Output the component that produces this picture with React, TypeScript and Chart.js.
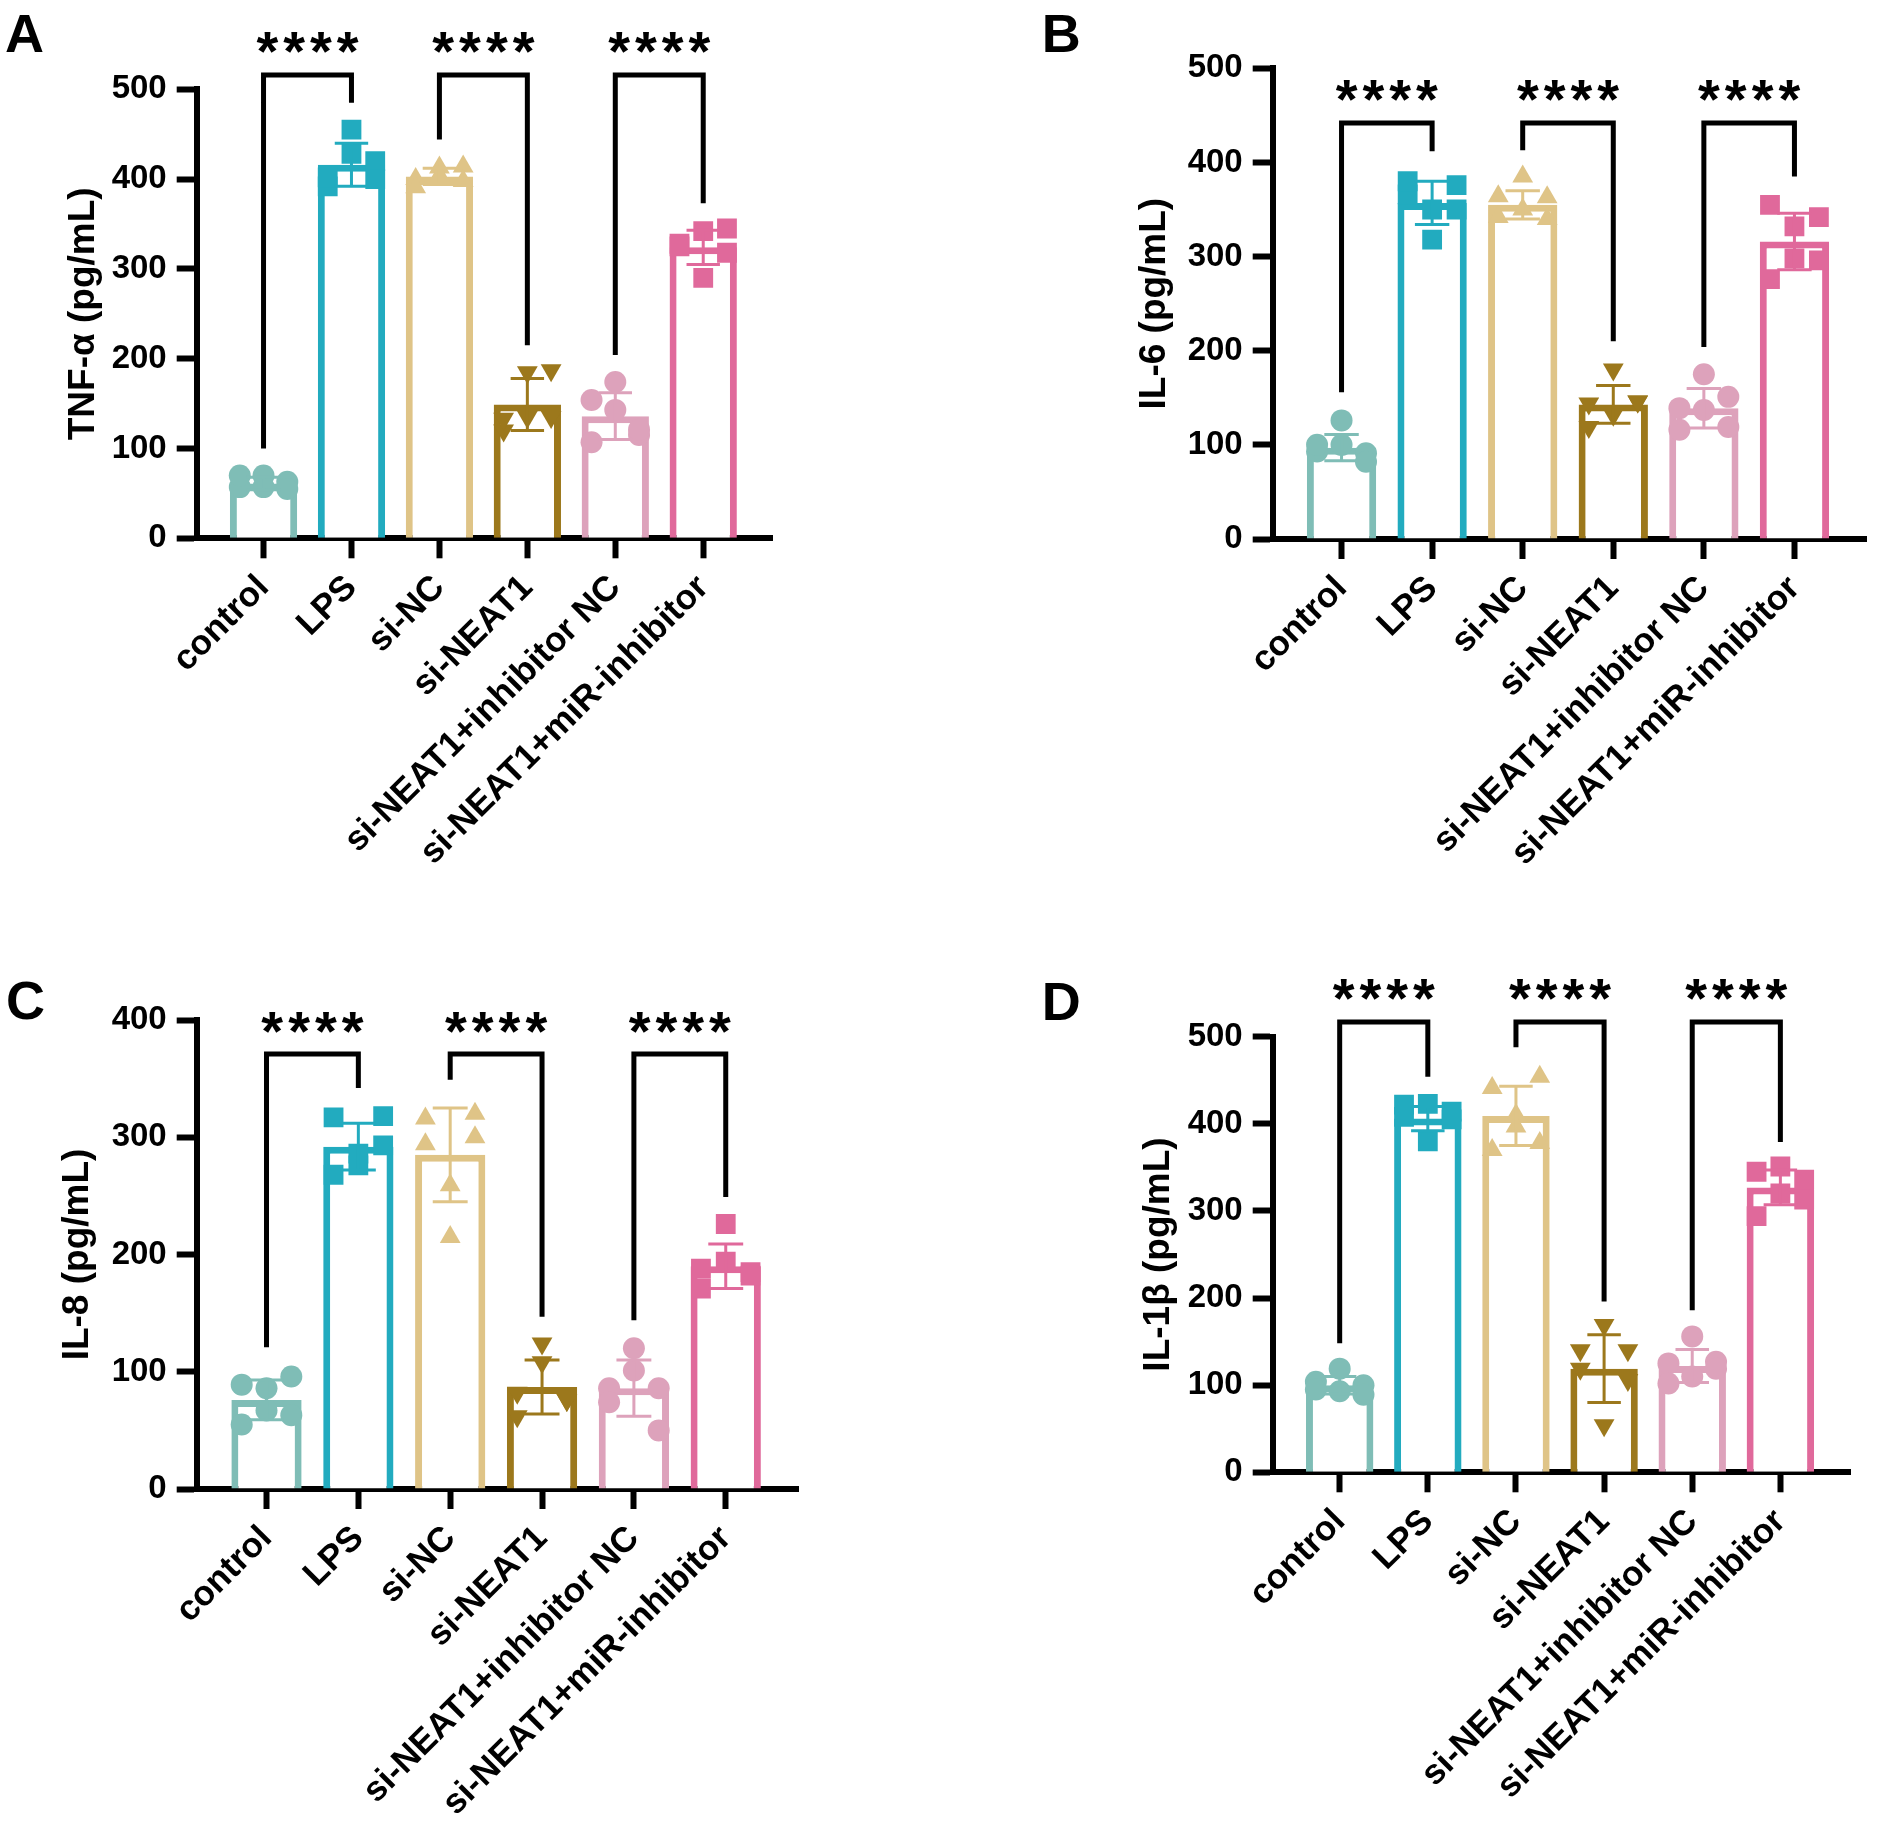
import React, { useEffect, useRef } from 'react';
import { Chart, registerables } from 'chart.js';

Chart.register(...registerables);

const FONT = "'Liberation Sans', Arial, Helvetica, sans-serif";
Chart.defaults.font.family = FONT;

// ---------- shared categories / styles ----------
const CATEGORIES = ['control', 'LPS', 'si-NC', 'si-NEAT1', 'si-NEAT1+inhibitor NC', 'si-NEAT1+miR-inhibitor'];
const GROUP_COLORS = ['#7FBDB6', '#22ABBF', '#DFC487', '#9C781C', '#DDA2BB', '#E0699B'];
const POINT_STYLES = ['circle', 'rect', 'triangle', 'triangle', 'circle', 'rect'];
const POINT_ROTATIONS = [0, 0, 0, 180, 0, 0];
const POINT_RADII = [11, 14, 12, 12, 11, 14];
const JITTER = [0, -0.27, 0.27, 0, -0.27, 0.27];
const COMPARISONS: [number, number][] = [[0, 1], [2, 3], [4, 5]];
const STAR_LABEL = '****';

// ---------- Panel A : TNF-α ----------
const TNF_MEANS = [61, 416, 403, 149, 136, 324];
const TNF_SD = [7, 24, 9, 29, 26, 19];
const TNF_POINTS = [
  [70, 57, 63, 57, 70, 55],
  [455, 392, 420, 428, 402, 400],
  [413, 400, 414, 404, 391, 398],
  [185, 120, 187, 135, 133, 135],
  [174, 154, 115, 143, 107, 121],
  [342, 328, 345, 290, 325, 318],
];
const TNF_BRACKET_TOP = 516;
const TNF_BRACKET_LEGS = [100, 485, 444, 215, 204, 373];

// ---------- Panel B : IL-6 ----------
const IL6_MEANS = [97, 357, 355, 143, 139, 316];
const IL6_SD = [14, 23, 15, 20, 21, 30];
const IL6_POINTS = [
  [126, 93, 91, 100, 100, 82],
  [318, 366, 376, 350, 380, 350],
  [385, 364, 363, 350, 342, 340],
  [180, 144, 146, 132, 119, 146],
  [175, 139, 151, 137, 116, 119],
  [332, 355, 342, 298, 276, 296],
];
const IL6_BRACKET_TOP = 442;
const IL6_BRACKET_LEGS = [156, 412, 413, 210, 204, 385];

// ---------- Panel C : IL-8 ----------
const IL8_MEANS = [76, 292, 285, 87, 86, 190];
const IL8_SD = [17, 20, 40, 23, 24, 19];
const IL8_POINTS = [
  [86, 89, 96, 67, 55, 63],
  [286, 317, 318, 276, 268, 293],
  [259, 316, 320, 215, 294, 300],
  [124, 82, 76, 108, 62, 76],
  [120, 86, 86, 101, 74, 50],
  [226, 188, 182, 194, 171, 185],
];
const IL8_BRACKET_TOP = 371;
const IL8_BRACKET_LEGS = [121, 342, 349, 147, 144, 249];

// ---------- Panel D : IL-1β ----------
const IL1B_MEANS = [100, 406, 409, 119, 122, 327];
const IL1B_SD = [10, 14, 34, 39, 19, 20];
const IL1B_POINTS = [
  [119, 104, 100, 93, 95, 89],
  [423, 422, 414, 380, 408, 405],
  [410, 441, 454, 397, 370, 378],
  [169, 140, 140, 54, 119, 106],
  [156, 125, 127, 110, 102, 119],
  [351, 345, 336, 320, 294, 313],
];
const IL1B_BRACKET_TOP = 517;
const IL1B_BRACKET_LEGS = [148, 454, 488, 196, 186, 379];

// ---------- layout ----------
const W = 940;
const H = 912;
const Y_AXIS_W = 190;
const AXIS_W = 6;
const X_MIN = -0.76;
const X_MAX = 5.79;
const ERR_CAP = 0.19;
const TITLE_SIZE = 37;

type PanelDef = {
  letter: string; title: string; means: number[]; sds: number[]; points: number[][];
  bracketTop: number; legs: number[]; yMax: number;
  left: number; top: number; axisX: number; plotTop: number; plotBottom: number; plotRight: number;
  titleX: number; letterX: number; letterY: number;
};

const PANELS: PanelDef[] = [
  { letter: 'A', title: 'TNF-α (pg/mL)', means: TNF_MEANS, sds: TNF_SD, points: TNF_POINTS,
    bracketTop: TNF_BRACKET_TOP, legs: TNF_BRACKET_LEGS, yMax: 500,
    left: 0, top: 0, axisX: 196.7, plotTop: 89.3, plotBottom: 538.3, plotRight: 772.7,
    titleX: 83.5, letterX: 5, letterY: 52 },
  { letter: 'B', title: 'IL-6 (pg/mL)', means: IL6_MEANS, sds: IL6_SD, points: IL6_POINTS,
    bracketTop: IL6_BRACKET_TOP, legs: IL6_BRACKET_LEGS, yMax: 500,
    left: 940, top: 0, axisX: 332.7, plotTop: 68.3, plotBottom: 539, plotRight: 935,
    titleX: 215, letterX: 101.7, letterY: 52 },
  { letter: 'C', title: 'IL-8 (pg/mL)', means: IL8_MEANS, sds: IL8_SD, points: IL8_POINTS,
    bracketTop: IL8_BRACKET_TOP, legs: IL8_BRACKET_LEGS, yMax: 400,
    left: 0, top: 912, axisX: 196.7, plotTop: 108, plotBottom: 577, plotRight: 798.3,
    titleX: 78, letterX: 6, letterY: 107 },
  { letter: 'D', title: 'IL-1β (pg/mL)', means: IL1B_MEANS, sds: IL1B_SD, points: IL1B_POINTS,
    bracketTop: IL1B_BRACKET_TOP, legs: IL1B_BRACKET_LEGS, yMax: 500,
    left: 940, top: 912, axisX: 332.7, plotTop: 124.7, plotBottom: 560.3, plotRight: 910,
    titleX: 219, letterX: 101.7, letterY: 108 },
];

function overlayPlugin(p: PanelDef) {
  return {
    id: 'overlay' + p.letter,
    afterDatasetsDraw(chart: any) {
      const { ctx } = chart;
      const x = chart.scales.x;
      const y = chart.scales.y;
      const capHalf = x.getPixelForValue(ERR_CAP) - x.getPixelForValue(0);
      ctx.save();
      ctx.lineWidth = 3;
      ctx.lineCap = 'butt';
      p.means.forEach((m, i) => {
        const sd = p.sds[i];
        const px = x.getPixelForValue(i);
        const t = y.getPixelForValue(m + sd);
        const b = y.getPixelForValue(m - sd);
        ctx.strokeStyle = GROUP_COLORS[i];
        ctx.beginPath();
        ctx.moveTo(px, t);
        ctx.lineTo(px, b);
        ctx.moveTo(px - capHalf, t);
        ctx.lineTo(px + capHalf, t);
        ctx.moveTo(px - capHalf, b);
        ctx.lineTo(px + capHalf, b);
        ctx.stroke();
      });
      ctx.restore();
    },
    afterDraw(chart: any) {
      const { ctx } = chart;
      const x = chart.scales.x;
      const y = chart.scales.y;
      const topPx = y.getPixelForValue(p.bracketTop);
      ctx.save();
      ctx.strokeStyle = '#000';
      ctx.fillStyle = '#000';
      ctx.lineWidth = 5;
      ctx.lineJoin = 'miter';
      COMPARISONS.forEach(([a, b]) => {
        const xa = x.getPixelForValue(a);
        const xb = x.getPixelForValue(b);
        ctx.beginPath();
        ctx.moveTo(xa, y.getPixelForValue(p.legs[a]));
        ctx.lineTo(xa, topPx);
        ctx.lineTo(xb, topPx);
        ctx.lineTo(xb, y.getPixelForValue(p.legs[b]));
        ctx.stroke();
        ctx.font = `bold 56px ${FONT}`;
        (ctx as any).letterSpacing = '5px';
        ctx.textAlign = 'center';
        ctx.textBaseline = 'alphabetic';
        const m = ctx.measureText(STAR_LABEL);
        const inkMid = (m.actualBoundingBoxAscent - m.actualBoundingBoxDescent) / 2;
        ctx.fillText(STAR_LABEL, (xa + xb) / 2 + 2.5, topPx - 32 + inkMid);
      });
      (ctx as any).letterSpacing = '0px';
      ctx.font = `bold 54px ${FONT}`;
      ctx.textAlign = 'left';
      ctx.textBaseline = 'alphabetic';
      ctx.fillText(p.letter, p.letterX, p.letterY);
      ctx.restore();
    },
  };
}

function Panel({ p }: { p: PanelDef }) {
  const ref = useRef<HTMLCanvasElement>(null);
  useEffect(() => {
    if (!ref.current) return;
    const padLeft = p.axisX - Y_AXIS_W;
    const titleLine = TITLE_SIZE * 1.2;
    const datasets: any[] = [
      {
        type: 'bar',
        data: p.means.map((m, i) => ({ x: i, y: m })),
        backgroundColor: '#ffffff',
        borderColor: GROUP_COLORS,
        borderWidth: 7,
        borderSkipped: 'bottom',
        barPercentage: 0.765,
        categoryPercentage: 1,
        order: 2,
      },
      ...p.points.map((vals, i) => ({
        type: 'scatter',
        data: vals.map((v, j) => ({ x: i + JITTER[j], y: v })),
        showLine: false,
        pointStyle: POINT_STYLES[i],
        pointRotation: POINT_ROTATIONS[i],
        pointRadius: POINT_RADII[i],
        pointHoverRadius: POINT_RADII[i],
        pointBackgroundColor: GROUP_COLORS[i],
        pointBorderWidth: 0,
        order: 1,
      })),
    ];
    const chart = new Chart(ref.current, {
      type: 'bar',
      data: { datasets },
      options: {
        animation: false,
        responsive: false,
        devicePixelRatio: 1,
        layout: { padding: { left: padLeft, top: p.plotTop, right: W - p.plotRight, bottom: 0 } },
        plugins: { legend: { display: false }, tooltip: { enabled: false } },
        scales: {
          x: {
            type: 'linear',
            min: X_MIN,
            max: X_MAX,
            offset: false,
            z: 1,
            afterFit: (s: any) => { s.height = H - p.plotBottom; },
            border: { display: true, width: AXIS_W, color: '#000' },
            grid: { display: true, offset: false, drawOnChartArea: false, drawTicks: true, tickLength: 20, tickWidth: AXIS_W, tickColor: '#000' },
            ticks: {
              stepSize: 1,
              autoSkip: false,
              includeBounds: false,
              minRotation: 45,
              maxRotation: 45,
              padding: 9,
              color: '#000',
              font: { size: 35, weight: 'bold' },
              callback: (v: any) => (Number.isInteger(v) && CATEGORIES[v] ? CATEGORIES[v] : ''),
            },
          },
          y: {
            min: 0,
            max: p.yMax,
            z: 1,
            afterFit: (s: any) => { s.width = Y_AXIS_W; },
            border: { display: true, width: AXIS_W, color: '#000' },
            grid: { display: true, drawOnChartArea: false, drawTicks: true, tickLength: 20, tickWidth: AXIS_W, tickColor: '#000' },
            ticks: { stepSize: 100, padding: 10, color: '#000', font: { size: 33, weight: 'bold' } },
            title: {
              display: true,
              text: p.title,
              color: '#000',
              font: { size: TITLE_SIZE, weight: 'bold' },
              padding: { top: p.titleX - padLeft - titleLine / 2, bottom: 0 },
            },
          },
        },
      } as any,
      plugins: [overlayPlugin(p)],
    });
    return () => chart.destroy();
  }, [p]);
  return (
    <canvas
      ref={ref}
      width={W}
      height={H}
      style={{ position: 'absolute', left: p.left, top: p.top, width: W, height: H }}
    />
  );
}

export default function App() {
  return (
    <div style={{ position: 'absolute', left: 0, top: 0, width: 1880, height: 1824, background: '#ffffff' }}>
      {PANELS.map((p) => (
        <Panel key={p.letter} p={p} />
      ))}
    </div>
  );
}
